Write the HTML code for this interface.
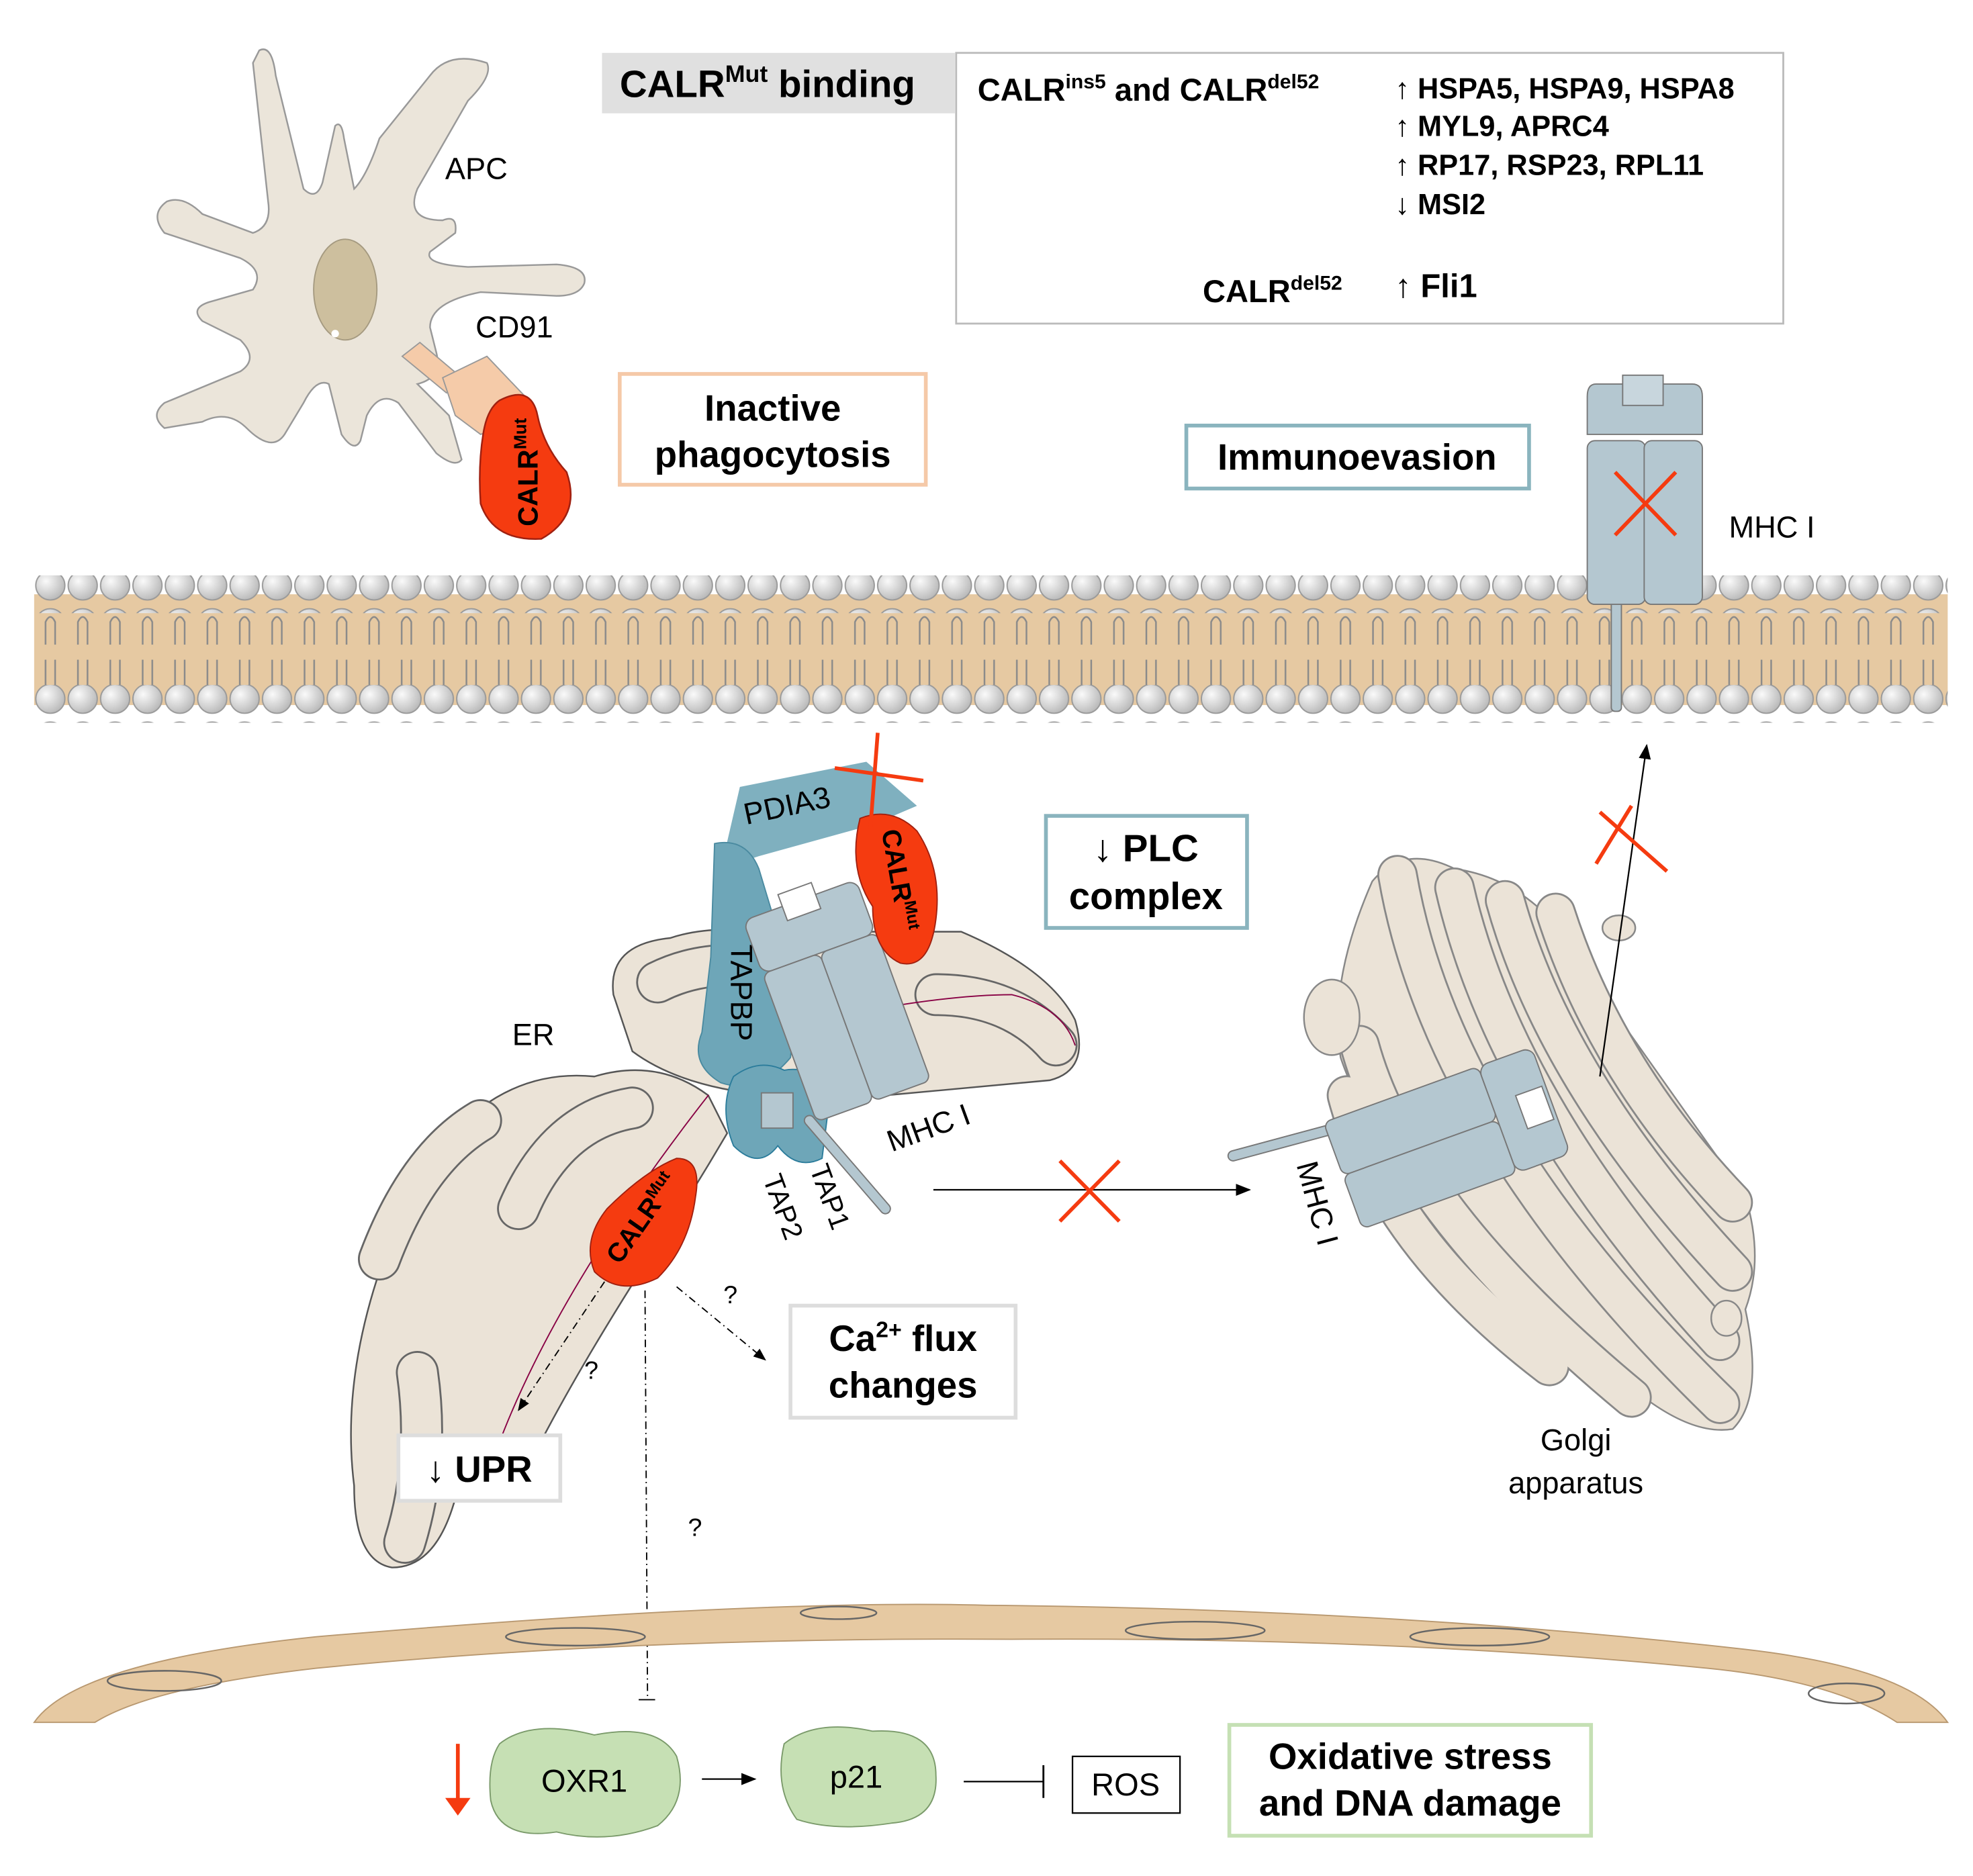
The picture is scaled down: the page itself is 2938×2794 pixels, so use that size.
<!DOCTYPE html>
<html><head><meta charset="utf-8"><style>
html,body{margin:0;padding:0;background:#fff}
svg{display:block}
text{font-family:"Liberation Sans",Arial,sans-serif}
</style></head><body>
<svg width="2938" height="2794" viewBox="0 0 1560 1490" preserveAspectRatio="none" xmlns="http://www.w3.org/2000/svg">
<defs>
<radialGradient id="ball" cx="0.35" cy="0.35" r="0.7"><stop offset="0" stop-color="#fafafa"/><stop offset="1" stop-color="#b8b8b8"/></radialGradient>
<pattern id="balls" x="27" y="0" width="25.6" height="30" patternUnits="userSpaceOnUse">
<circle cx="12.8" cy="15" r="11.5" fill="url(#ball)" stroke="#999" stroke-width="1"/></pattern>
<pattern id="tailsTop" x="27" y="0" width="25.6" height="40" patternUnits="userSpaceOnUse">
<path d="M9 36 V14 Q12.8 6 16.6 14 V36" fill="none" stroke="#8a8a8a" stroke-width="1.3"/></pattern>
<pattern id="tailsBot" x="27" y="0" width="25.6" height="40" patternUnits="userSpaceOnUse">
<path d="M9 4 V26 Q12.8 34 16.6 26 V4" fill="none" stroke="#8a8a8a" stroke-width="1.3"/></pattern>
<marker id="ah" markerWidth="10" markerHeight="8" refX="9" refY="4" orient="auto"><path d="M0 0 L10 4 L0 8z" fill="#000"/></marker>
</defs>

<!-- APC cell -->
<path d="M205 40 Q215 35 218 60 L240 150 Q250 160 255 145 L265 100 Q270 95 272 110 L280 150 Q290 140 300 110 L340 60 Q355 40 385 50 Q390 60 370 80 L330 150 Q320 175 350 175 Q362 170 360 185 L340 200 Q335 210 370 212 L440 210 Q465 212 462 225 Q458 235 440 235 L380 232 Q340 240 340 260 L345 280 Q350 300 330 305 L355 330 L365 365 Q360 372 345 360 L315 320 Q300 310 290 330 L285 350 Q280 360 270 345 L260 305 Q250 300 240 320 L225 345 Q215 360 195 340 Q180 325 160 335 L130 340 Q118 330 130 320 L190 295 Q205 285 190 270 L160 255 Q150 245 165 240 L200 230 Q210 215 190 205 L130 185 Q118 170 132 160 Q145 155 160 170 L200 185 Q215 180 212 160 L200 50 Z" fill="#ebe5da" stroke="#999" stroke-width="1.3"/>
<ellipse cx="273" cy="230" rx="25" ry="40" fill="#cdbf9e" stroke="#a59a80" stroke-width="1"/>
<circle cx="265" cy="265" r="3" fill="#fff"/>
<text x="352" y="142" font-size="24">APC</text>
<text x="376" y="268" font-size="24">CD91</text>
<path d="M318 283 L332 272 L365 300 L353 312 Z" fill="#f5cba9" stroke="#999"/>
<path d="M350 300 L385 283 L420 320 L395 340 L380 345 L360 330 Z" fill="#f5cba9" stroke="#999"/>
<path d="M395 318 Q420 305 425 330 Q430 355 448 375 Q460 410 428 428 Q390 430 380 400 Q378 370 382 345 Q385 325 395 318 Z" fill="#f53b10" stroke="#a02010" stroke-width="1.3"/>
<text transform="translate(425,418) rotate(-90)" font-size="22" font-weight="bold">CALR<tspan font-size="14" dy="-9">Mut</tspan></text>

<rect x="476" y="42" width="279" height="48" fill="#e0e0e0"/>
<text x="490" y="77" font-size="30" font-weight="bold">CALR<tspan font-size="19" dy="-12">Mut</tspan><tspan dy="12"> binding</tspan></text>
<rect x="756" y="42" width="654" height="215" fill="#fff" stroke="#bbb" stroke-width="1.5"/>
<text x="773" y="80" font-size="25" font-weight="bold">CALR<tspan font-size="16" dy="-10">ins5</tspan><tspan dy="10"> and CALR</tspan><tspan font-size="16" dy="-10">del52</tspan></text>
<g font-size="23" font-weight="bold">
<text x="1103" y="78">↑ HSPA5, HSPA9, HSPA8</text>
<text x="1103" y="108">↑ MYL9, APRC4</text>
<text x="1103" y="139">↑ RP17, RSP23, RPL11</text>
<text x="1103" y="170">↓ MSI2</text>
<text x="1103" y="236" font-size="26">↑ Fli1</text>
</g>
<text x="951" y="240" font-size="25" font-weight="bold">CALR<tspan font-size="16" dy="-10">del52</tspan></text>

<rect x="490" y="297" width="242" height="88" fill="#fff" stroke="#f5c9a8" stroke-width="3"/>
<text x="611" y="334" font-size="29" font-weight="bold" text-anchor="middle">Inactive</text>
<text x="611" y="371" font-size="29" font-weight="bold" text-anchor="middle">phagocytosis</text>
<rect x="938" y="338" width="271" height="50" fill="#fff" stroke="#8ab4be" stroke-width="3"/>
<text x="1073" y="373" font-size="29" font-weight="bold" text-anchor="middle">Immunoevasion</text>

<rect x="27" y="472" width="1513" height="88" fill="#e6c9a2"/>
<rect x="27" y="472" width="1513" height="40" fill="url(#tailsTop)"/>
<rect x="27" y="517" width="1513" height="40" fill="url(#tailsBot)"/>
<rect x="27" y="457" width="1513" height="30" fill="url(#balls)"/>
<rect x="27" y="544" width="1513" height="30" fill="url(#balls)"/>

<rect x="1274" y="470" width="8" height="95" rx="3" fill="#b4c7d0" stroke="#777"/>
<path d="M1262 305 H1338 Q1346 305 1346 315 V345 H1255 V315 Q1255 305 1262 305 Z" fill="#b4c7d0" stroke="#777"/>
<rect x="1283" y="298" width="32" height="24" fill="#c8d6dd" stroke="#777"/>
<rect x="1255" y="350" width="46" height="130" rx="6" fill="#b4c7d0" stroke="#777"/>
<rect x="1300" y="350" width="46" height="130" rx="6" fill="#b4c7d0" stroke="#777"/>
<path d="M1277 375 L1325 425 M1325 375 L1277 425" stroke="#f53b10" stroke-width="3"/>
<text x="1367" y="427" font-size="24">MHC I</text>

<!-- ER -->
<g fill="#ebe3d7" stroke="#555" stroke-width="1.3">
<path d="M485 790 Q480 750 530 745 Q560 735 600 740 L760 740 Q830 770 850 810 Q862 850 830 858 L700 870 Q560 880 500 835 Z"/>
<path d="M280 1180 Q270 1100 300 1010 Q330 930 380 880 Q420 850 470 855 Q520 840 560 870 L575 900 Q540 960 500 1020 Q450 1100 420 1160 Q400 1190 360 1190 Q345 1245 310 1245 Q280 1240 280 1180 Z"/>
</g>
<g fill="none" stroke-linecap="round">
<g stroke="#666" stroke-width="34">
<path d="M300 1000 Q330 920 380 890"/><path d="M410 960 Q440 890 500 880"/><path d="M330 1090 Q340 1160 320 1225"/>
<path d="M520 780 Q560 760 610 770"/><path d="M740 790 Q800 790 835 830"/>
</g>
<g stroke="#ebe3d7" stroke-width="31">
<path d="M300 1000 Q330 920 380 890"/><path d="M410 960 Q440 890 500 880"/><path d="M330 1090 Q340 1160 320 1225"/>
<path d="M520 780 Q560 760 610 770"/><path d="M740 790 Q800 790 835 830"/>
</g>
<path d="M380 1190 Q420 1050 560 870" stroke="#804" stroke-width="1"/>
<path d="M700 800 Q760 790 800 790 Q840 800 850 830" stroke="#804" stroke-width="1"/>
</g>

<!-- PLC complex -->
<path d="M585 625 L685 605 L725 640 L690 655 L600 680 L570 690 Z" fill="#7fb0bf"/>
<text transform="translate(590,655) rotate(-12)" font-size="24">PDIA3</text>
<path d="M565 670 Q590 665 600 690 L615 740 Q630 800 625 840 Q600 870 570 860 Q545 845 555 820 L562 760 Z" fill="#6ea6b8" stroke="#4a8aa0"/>
<text transform="translate(578,750) rotate(90)" font-size="24">TAPBP</text>
<path d="M580 855 Q600 840 620 850 Q650 845 655 880 L650 920 Q630 930 615 910 Q600 930 580 910 Q568 880 580 855 Z" fill="#6ea6b8" stroke="#2b7c9b"/>
<rect x="602" y="868" width="25" height="28" fill="#b4c7d0" stroke="#777"/>
<path d="M640 890 L700 960" stroke="#777" stroke-width="9" stroke-linecap="round"/>
<path d="M640 890 L700 960" stroke="#b4c7d0" stroke-width="7" stroke-linecap="round"/>
<g transform="rotate(-20 660 790)">
<rect x="612" y="710" width="95" height="45" rx="8" fill="#b4c7d0" stroke="#777"/>
<rect x="645" y="700" width="28" height="22" fill="#fff" stroke="#777"/>
<rect x="612" y="755" width="48" height="125" rx="6" fill="#b4c7d0" stroke="#777"/>
<rect x="660" y="755" width="48" height="125" rx="6" fill="#b4c7d0" stroke="#777"/>
</g>
<path d="M680 650 Q705 640 725 660 Q745 690 740 730 Q735 770 712 765 Q690 755 690 720 Q670 690 680 650 Z" fill="#f53b10" stroke="#a02010"/>
<text transform="translate(697,660) rotate(80)" font-size="21" font-weight="bold">CALR<tspan font-size="13" dy="-8">Mut</tspan></text>
<path d="M694 582 L688 660 M660 610 L730 620" stroke="#f53b10" stroke-width="3"/>
<text transform="translate(705,915) rotate(-20)" font-size="24">MHC I</text>
<text transform="translate(640,928) rotate(70)" font-size="22">TAP1</text>
<text transform="translate(603,936) rotate(70)" font-size="22">TAP2</text>
<text x="405" y="830" font-size="24">ER</text>
<path d="M480 960 Q510 930 535 920 Q555 920 550 950 Q545 990 520 1015 Q490 1030 470 1010 Q460 985 480 960 Z" fill="#f53b10" stroke="#a02010"/>
<text transform="translate(490,1005) rotate(-55)" font-size="21" font-weight="bold">CALR<tspan font-size="13" dy="-8">Mut</tspan></text>

<rect x="827" y="648" width="159" height="89" fill="#fff" stroke="#8ab4be" stroke-width="3"/>
<text x="906" y="684" font-size="30" font-weight="bold" text-anchor="middle">↓ PLC</text>
<text x="906" y="722" font-size="30" font-weight="bold" text-anchor="middle">complex</text>

<!-- Golgi -->
<path d="M1085 700 Q1110 670 1150 690 Q1220 700 1260 780 Q1330 880 1380 950 Q1395 1000 1380 1040 Q1395 1110 1370 1135 Q1340 1140 1300 1110 Q1220 1060 1150 990 Q1080 900 1060 840 Q1050 780 1085 700 Z" fill="#ebe3d7" stroke="#888" stroke-width="1.3"/>
<g fill="none" stroke-linecap="round">
<g stroke="#888" stroke-width="32">
<path d="M1230 725 Q1270 850 1370 955"/>
<path d="M1190 715 Q1230 860 1370 1010"/>
<path d="M1150 705 Q1190 880 1360 1065"/>
<path d="M1105 695 Q1140 900 1360 1115"/>
<path d="M1075 830 Q1110 960 1290 1110"/>
<path d="M1065 870 Q1095 985 1225 1085"/>
</g>
<g stroke="#ebe3d7" stroke-width="29">
<path d="M1230 725 Q1270 850 1370 955"/>
<path d="M1190 715 Q1230 860 1370 1010"/>
<path d="M1150 705 Q1190 880 1360 1065"/>
<path d="M1105 695 Q1140 900 1360 1115"/>
<path d="M1075 830 Q1110 960 1290 1110"/>
<path d="M1065 870 Q1095 985 1225 1085"/>
</g>
</g>
<g fill="#ebe3d7" stroke="#888" stroke-width="1.3">
<ellipse cx="1053" cy="808" rx="22" ry="30"/>
<ellipse cx="1280" cy="737" rx="13" ry="10"/>
<ellipse cx="1365" cy="1047" rx="12" ry="14"/>
</g>
<path d="M975 918 L1060 895" stroke="#777" stroke-width="9" stroke-linecap="round"/>
<path d="M975 918 L1060 895" stroke="#b4c7d0" stroke-width="7" stroke-linecap="round"/>
<g transform="rotate(-20 1140 900)">
<rect x="1055" y="860" width="130" height="45" rx="6" fill="#b4c7d0" stroke="#777"/>
<rect x="1055" y="905" width="130" height="45" rx="6" fill="#b4c7d0" stroke="#777"/>
<rect x="1185" y="860" width="45" height="90" rx="8" fill="#b4c7d0" stroke="#777"/>
<rect x="1205" y="892" width="22" height="28" fill="#fff" stroke="#777"/>
</g>
<text transform="translate(1025,925) rotate(75)" font-size="24">MHC I</text>
<text x="1246" y="1152" font-size="24" text-anchor="middle">Golgi</text>
<text x="1246" y="1186" font-size="24" text-anchor="middle">apparatus</text>

<line x1="738" y1="945" x2="988" y2="945" stroke="#000" stroke-width="1.2" marker-end="url(#ah)"/>
<path d="M838 922 L885 970 M885 922 L838 970" stroke="#f53b10" stroke-width="3"/>
<line x1="1265" y1="855" x2="1302" y2="592" stroke="#000" stroke-width="1.2" marker-end="url(#ah)"/>
<path d="M1265 645 L1318 692 M1290 640 L1262 686" stroke="#f53b10" stroke-width="3"/>

<g stroke="#000" stroke-width="1" stroke-dasharray="6 3 1 3" fill="none">
<line x1="535" y1="1022" x2="605" y2="1080" marker-end="url(#ah)"/>
<line x1="478" y1="1018" x2="410" y2="1120" marker-end="url(#ah)"/>
<line x1="510" y1="1025" x2="512" y2="1350"/>
</g>
<line x1="505" y1="1350" x2="518" y2="1350" stroke="#000"/>
<text x="572" y="1035" font-size="20">?</text>
<text x="462" y="1095" font-size="20">?</text>
<text x="544" y="1220" font-size="20">?</text>

<rect x="625" y="1037" width="178" height="89" fill="#fff" stroke="#ddd" stroke-width="3"/>
<text x="714" y="1073" font-size="29" font-weight="bold" text-anchor="middle">Ca<tspan font-size="18" dy="-11">2+</tspan><tspan dy="11"> flux</tspan></text>
<text x="714" y="1110" font-size="29" font-weight="bold" text-anchor="middle">changes</text>
<rect x="315" y="1140" width="128" height="52" fill="#fff" stroke="#ddd" stroke-width="3"/>
<text x="379" y="1177" font-size="29" font-weight="bold" text-anchor="middle">↓ UPR</text>

<path d="M27 1368 Q60 1320 250 1300 Q600 1270 780 1275 Q1100 1278 1380 1310 Q1510 1325 1540 1368 L1500 1368 Q1450 1335 1350 1325 Q1100 1300 800 1302 Q500 1300 250 1325 Q120 1340 75 1368 Z" fill="#e6c9a2" stroke="#b89870"/>
<g fill="none" stroke="#666" stroke-width="1.3">
<ellipse cx="130" cy="1335" rx="45" ry="8"/><ellipse cx="455" cy="1300" rx="55" ry="7"/><ellipse cx="663" cy="1281" rx="30" ry="5"/><ellipse cx="945" cy="1295" rx="55" ry="7"/><ellipse cx="1170" cy="1300" rx="55" ry="7"/><ellipse cx="1460" cy="1345" rx="30" ry="8"/>
</g>

<path d="M362 1385 V1432" stroke="#f53b10" stroke-width="3"/>
<path d="M352 1428 L362 1442 L372 1428 Z" fill="#f53b10"/>
<path d="M395 1385 Q420 1365 470 1378 Q520 1368 535 1395 Q545 1430 520 1450 Q480 1465 440 1455 Q395 1462 388 1430 Q385 1400 395 1385 Z" fill="#c6e0b4" stroke="#7a9a6a"/>
<text x="462" y="1423" font-size="25" text-anchor="middle">OXR1</text>
<path d="M620 1385 Q645 1365 690 1375 Q740 1372 740 1410 Q742 1445 705 1448 Q660 1455 630 1445 Q612 1420 620 1385 Z" fill="#c6e0b4" stroke="#7a9a6a"/>
<text x="677" y="1420" font-size="25" text-anchor="middle">p21</text>
<line x1="555" y1="1413" x2="597" y2="1413" stroke="#000" stroke-width="1.2" marker-end="url(#ah)"/>
<line x1="762" y1="1415" x2="825" y2="1415" stroke="#000" stroke-width="1.2"/>
<line x1="825" y1="1402" x2="825" y2="1428" stroke="#000" stroke-width="1.5"/>
<rect x="848" y="1395" width="85" height="45" fill="#fff" stroke="#000" stroke-width="1.2"/>
<text x="890" y="1426" font-size="25" text-anchor="middle">ROS</text>
<rect x="972" y="1370" width="286" height="88" fill="#fff" stroke="#c5e0b4" stroke-width="3"/>
<text x="1115" y="1405" font-size="29" font-weight="bold" text-anchor="middle">Oxidative stress</text>
<text x="1115" y="1442" font-size="29" font-weight="bold" text-anchor="middle">and DNA damage</text>
</svg>
</body></html>
